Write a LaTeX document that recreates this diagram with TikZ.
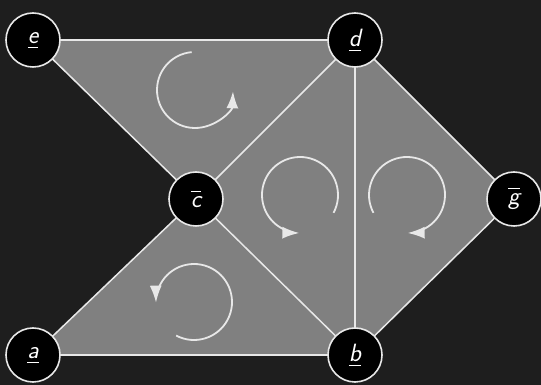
\documentclass[tikz,border=0pt]{standalone}
\usepackage{fontspec}
\usetikzlibrary{arrows.meta}
\definecolor{bg}{HTML}{1E1E1E}
\definecolor{face}{HTML}{808080}
\definecolor{edgec}{HTML}{E8E8E8}
\tikzset{
  vert/.style={circle, fill=black, draw=edgec, line width=1.6pt, minimum size=54pt, inner sep=0pt, text=white, font=\fontsize{25}{30}\selectfont\sffamily\itshape},
  edge/.style={draw=edgec, line width=1.5pt},
  face/.style={fill=face},
  rot/.style={draw=edgec, line width=1.8pt, -{Latex[length=17pt,width=12pt]}},
}
\newcommand{\ul}[1]{$\underline{\hbox{\rule[-2.5pt]{0pt}{1pt}#1}}$}
\newcommand{\ol}[1]{\raisebox{-2pt}{$\overline{\hbox{\rule{0pt}{15pt}#1}}$}}
\begin{document}
\begin{tikzpicture}[x=1pt,y=1pt]
\fill[bg] (0,0) rectangle (541,385);
\useasboundingbox (0,0) rectangle (541,385);
\coordinate (E) at (33,345);
\coordinate (D) at (355,345);
\coordinate (C) at (196,186);
\coordinate (G) at (514,186);
\coordinate (A) at (33,30);
\coordinate (B) at (355,30);
\fill[face] (E) -- (D) -- (C) -- cycle;
\fill[face] (C) -- (D) -- (B) -- cycle;
\fill[face] (D) -- (G) -- (B) -- cycle;
\fill[face] (C) -- (B) -- (A) -- cycle;
\draw[edge] (E) -- (D);
\draw[edge] (E) -- (C);
\draw[edge] (C) -- (D);
\draw[edge] (D) -- (B);
\draw[edge] (D) -- (G);
\draw[edge] (G) -- (B);
\draw[edge] (C) -- (B);
\draw[edge] (C) -- (A);
\draw[edge] (A) -- (B);
\coordinate (r1) at (195,295);
\coordinate (r2) at (300,190);
\coordinate (r3) at (407,190);
\coordinate (r4) at (194,83);
\draw[rot] ([shift={(95:38)}]r1) arc[start angle=95, end angle=358, radius=38];
\draw[rot] ([shift={(-28:38)}]r2) arc[start angle=-28, end angle=269, radius=38];
\draw[rot] ([shift={(208:38)}]r3) arc[start angle=208, end angle=-89, radius=38];
\draw[rot] ([shift={(-118:38)}]r4) arc[start angle=-118, end angle=181, radius=38];
\node[vert] (e) at (E) {\ul{e}};
\node[vert] (d) at (D) {\ul{d}};
\node[vert] (c) at (C) {\ol{c}};
\node[vert] (g) at (G) {\ol{g}};
\node[vert] (a) at (A) {\ul{a}};
\node[vert] (b) at (B) {\ul{b}};
\end{tikzpicture}
\end{document}
